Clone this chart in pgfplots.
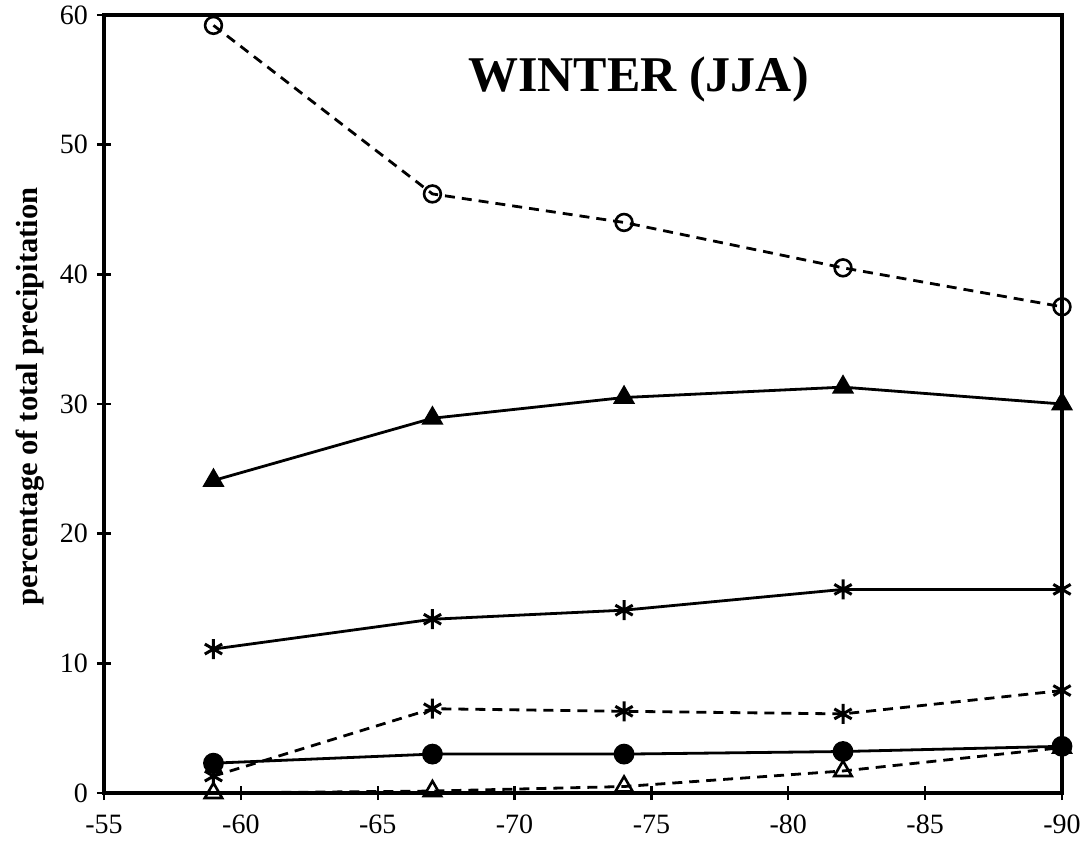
\documentclass[border=0pt]{standalone}
\usepackage{fontspec}
\setmainfont{Liberation Serif}
\usepackage{pgfplots}
\pgfplotsset{compat=1.18}
\begin{document}
\begin{tikzpicture}
\begin{axis}[
  name=ax,
  scale only axis,
  width=479pt, height=389pt,
  x dir=reverse,
  xmin=-90, xmax=-55,
  ymin=0, ymax=60,
  xtick={-55,-60,-65,-70,-75,-80,-85,-90},
  xticklabels={-55,-60,-65,-70,-75,-80,-85,-90},
  ytick={0,10,20,30,40,50,60},
  yticklabels={0,10,20,30,40,50,60},
  xtick pos=bottom, ytick pos=left,
  tick align=center,
  major tick length=7pt,
  tick style={line width=1.2pt, black},
  axis line style={line width=1.6pt},
  tick label style={font=\fontsize{14}{16}\selectfont},
  xticklabel style={yshift=-4pt},
  yticklabel style={xshift=-1pt},
  ylabel={\bfseries percentage of total precipitation},
  ylabel style={font=\fontsize{15.3}{18}\selectfont, at={(axis description cs:-0.077,0.51)}, anchor=center, rotate=0},
  clip=false,
]
% open circles dashed
\addplot[black, line width=1.4pt, dash pattern=on 5pt off 3.5pt, mark=o, mark size=4.2pt, mark options={solid, fill=white, line width=1.3pt}]
  coordinates {(-59,59.2) (-67,46.2) (-74,44.0) (-82,40.5) (-90,37.5)};
% filled triangles solid
\addplot[black, line width=1.4pt, mark=triangle*, mark size=5pt, mark options={solid}]
  coordinates {(-59,24.1) (-67,28.9) (-74,30.5) (-82,31.3) (-90,30.0)};
% asterisk solid
\addplot[black, line width=1.4pt, mark=asterisk, mark size=5pt, mark options={solid, line width=1.5pt}]
  coordinates {(-59,11.1) (-67,13.4) (-74,14.1) (-82,15.7) (-90,15.7)};
% asterisk dashed
\addplot[black, line width=1.4pt, dash pattern=on 5pt off 3.5pt, mark=asterisk, mark size=5pt, mark options={solid, line width=1.5pt}]
  coordinates {(-59,1.3) (-67,6.5) (-74,6.3) (-82,6.1) (-90,7.9)};
% filled circles solid
\addplot[black, line width=1.4pt, mark=*, mark size=4.5pt, mark options={solid}]
  coordinates {(-59,2.3) (-67,3.0) (-74,3.0) (-82,3.2) (-90,3.6)};
% open triangles dashed
\addplot[black, line width=1.4pt, dash pattern=on 5pt off 3.5pt, mark=triangle, mark size=5pt, mark options={solid, fill=white, line width=1.3pt}]
  coordinates {(-59,0.0) (-67,0.15) (-74,0.5) (-82,1.7) (-90,3.5)};
\node at (axis cs:-74.53,55.0) {\bfseries\fontsize{25}{29}\selectfont WINTER (JJA)};
\end{axis}
\pgfresetboundingbox
\path ([xshift=-52pt,yshift=-31pt]ax.south west) rectangle ([xshift=14.5pt,yshift=7.5pt]ax.north east);
\end{tikzpicture}
\end{document}
